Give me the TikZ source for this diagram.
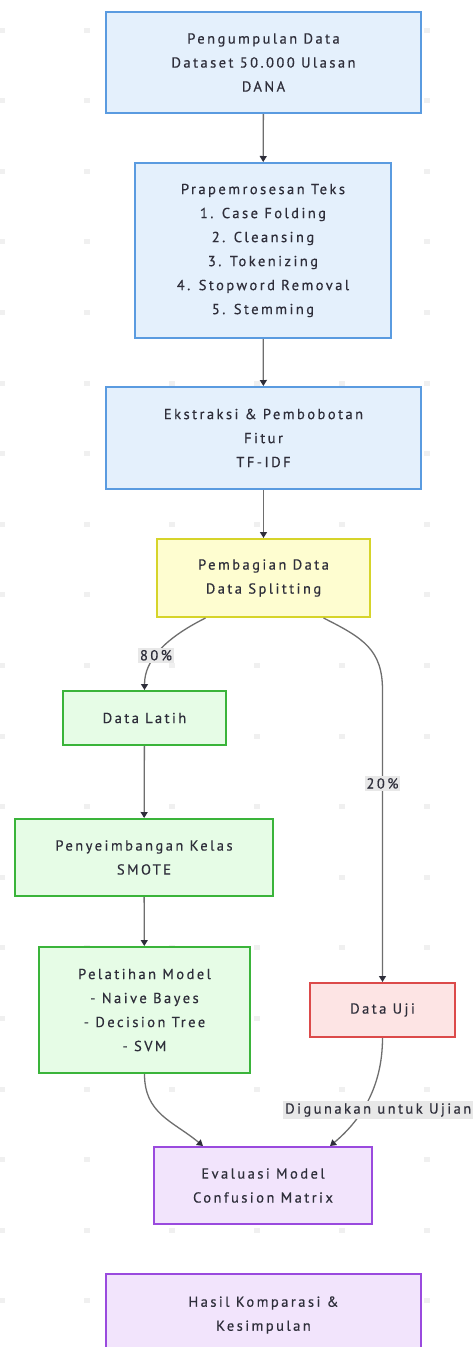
\documentclass[tikz,border=0pt]{standalone}
\usepackage{fontspec}
\setmainfont{PT Sans}[LetterSpace=17,FakeBold=0.5]
\usetikzlibrary{arrows.meta}
\definecolor{blueF}{HTML}{E4F0FC}
\definecolor{blueD}{HTML}{5A9BE0}
\definecolor{yelF}{HTML}{FEFDD0}
\definecolor{yelD}{HTML}{D6D42A}
\definecolor{grnF}{HTML}{E6FCE6}
\definecolor{grnD}{HTML}{3AB43A}
\definecolor{redF}{HTML}{FDE4E4}
\definecolor{redD}{HTML}{DC4A4A}
\definecolor{purF}{HTML}{F2E4FC}
\definecolor{purD}{HTML}{9A4ADE}
\definecolor{edgeC}{HTML}{6E6E6E}
\definecolor{lblF}{HTML}{E8E8E8}
\definecolor{textC}{HTML}{2E2E3A}
\tikzset{
  box/.style={draw, line width=2pt, align=center, font=\fontsize{14.5}{24}\selectfont,
    text=textC, inner sep=0pt},
  bluebox/.style={box, fill=blueF, draw=blueD},
  yelbox/.style={box, fill=yelF, draw=yelD},
  grnbox/.style={box, fill=grnF, draw=grnD},
  redbox/.style={box, fill=redF, draw=redD},
  purbox/.style={box, fill=purF, draw=purD},
  flow/.style={draw=edgeC, line width=1.3pt, -{Triangle[length=6pt,width=7pt,fill=textC,color=textC]}},
  elabel/.style={fill=lblF, text=textC, font=\fontsize{14.5}{15}\selectfont, inner sep=2pt}
}
\begin{document}
\begin{tikzpicture}[x=1pt,y=-1pt]
\useasboundingbox (0,0) rectangle (476,1347);
\fill[white] (0,0) rectangle (476,1347);
% faint background dot grid
\foreach \i in {0,...,5} {
  \foreach \j in {0,...,18} {
    \fill[black!6] ({2+84.9*\i-3},{30+70.6*\j-2.5}) rectangle +(6,5);
  }
}
% process nodes
\node[bluebox, minimum width=315, minimum height=101] (collect) at (263.5,62.5)
  {Pengumpulan Data\\Dataset 50.000 Ulasan\\DANA};
\node[bluebox, minimum width=256, minimum height=175] (prep) at (263,250.5)
  {Prapemrosesan Teks\\1. Case Folding\\2. Cleansing\\3. Tokenizing\\4. Stopword Removal\\5. Stemming};
\node[bluebox, minimum width=315, minimum height=102] (feat) at (263.5,438)
  {Ekstraksi \& Pembobotan\\Fitur\\TF-IDF};
\node[yelbox, minimum width=213, minimum height=78] (split) at (263.5,578)
  {Pembagian Data\\Data Splitting};
\node[grnbox, minimum width=163, minimum height=54] (train) at (144.5,718)
  {Data Latih};
\node[grnbox, minimum width=258, minimum height=77] (smote) at (144,857.5)
  {Penyeimbangan Kelas\\SMOTE};
\node[grnbox, minimum width=211, minimum height=126] (model) at (144.5,1010)
  {Pelatihan Model\\- Naive Bayes\\- Decision Tree\\- SVM};
\node[redbox, minimum width=145, minimum height=54] (test) at (382.5,1010)
  {Data Uji};
\node[purbox, minimum width=218, minimum height=77] (eval) at (263,1185.5)
  {Evaluasi Model\\Confusion Matrix};
\node[purbox, minimum width=315, minimum height=82] (result) at (263.5,1315)
  {Hasil Komparasi \&\\Kesimpulan};
% connectors
\draw[flow] (collect) -- (prep);
\draw[flow] (prep) -- (feat);
\draw[flow] (feat) -- (split);
\coordinate (sL) at ([xshift=-58pt]split.south);
\coordinate (sR) at ([xshift=60pt]split.south);
\draw[flow] (sL) .. controls +(-40,20) and +(0,-30) .. node[elabel, pos=0.57] {80\%} (train.north);
\draw[flow] (sR) .. controls +(40,20) and +(0,-40) .. (382.5,690) -- node[elabel, pos=0.32] {20\%} (test.north);
\draw[flow] (train) -- (smote);
\draw[flow] (smote) -- (model);
\coordinate (eL) at ([xshift=-60pt]eval.north);
\coordinate (eR) at ([xshift=67pt]eval.north);
\draw[flow] (model.south) .. controls +(0,40) and +(-30,-25) .. (eL);
\draw[flow] (test.south) .. controls +(0,50) and +(30,-25) .. (eR);
\node[elabel, anchor=west] (uselbl) at (283,1110) {Digunakan untuk Ujian};
\end{tikzpicture}
\end{document}
